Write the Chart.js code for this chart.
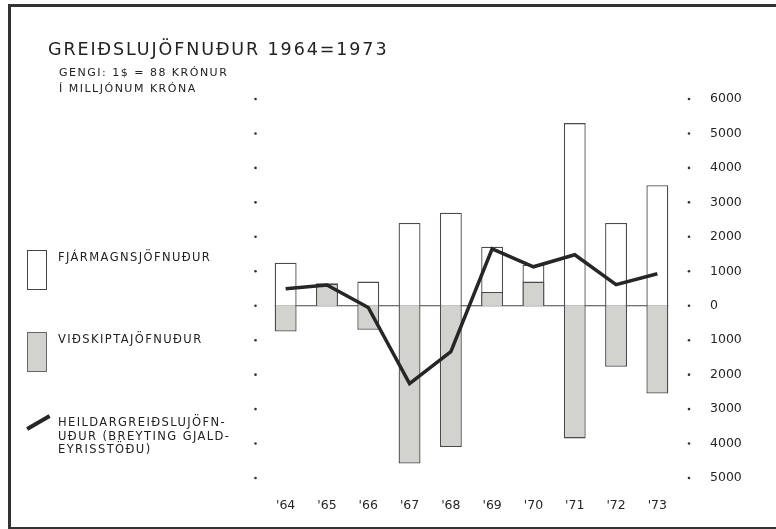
<!DOCTYPE html>
<html>
<head>
<meta charset="utf-8">
<script src="https://cdn.jsdelivr.net/npm/chart.js@4.4.1/dist/chart.umd.min.js"></script>
<style>
    body { margin: 0; background: #fff; }
    #wrap { position: relative; width: 776px; height: 529px; overflow: hidden; font-family: "DejaVu Sans", sans-serif; color: #222; }
    #chart { position: absolute; left: 0; top: 0; }
    .frame { position: absolute; left: 8px; top: 4px; width: 800px; height: 520px; border-left: 3px solid #333; border-top: 3px solid #333; border-bottom: 3px solid #333; }
    .title { position: absolute; left: 48px; top: 41px; font-size: 17.5px; line-height: 17px; letter-spacing: 1.9px; white-space: nowrap; }
    .sub { position: absolute; left: 59px; font-size: 11px; line-height: 11px; letter-spacing: 1.5px; white-space: nowrap; }
    .leg { position: absolute; left: 27px; }
    .leg .box { position: absolute; left: 0; top: 0; width: 20px; height: 40px; box-sizing: border-box; }
    .leg .txt { position: absolute; left: 31px; top: 1px; font-size: 11.5px; line-height: 13.5px; letter-spacing: 1.4px; white-space: nowrap; }
</style>
</head>
<body>
<div id="wrap">
    <canvas id="chart" width="776" height="529"></canvas>
    <div class="frame"></div>
    <div class="title">GREIÐSLUJÖFNUÐUR 1964=1973</div>
    <div class="sub" style="top:67px">GENGI: 1$ = 88 KRÓNUR</div>
    <div class="sub" style="top:83px">Í MILLJÓNUM KRÓNA</div>
    <div id="legend"></div>
</div>
<script>
// years on the x axis
var years = ["'64", "'65", "'66", "'67", "'68", "'69", "'70", "'71", "'72", "'73"];

// millions of krónur
var capitalBalance = [1250, 650, 700, 2400, 2700, 1710, 1190, 5300, 2400, 3500];
var currentBalance = [-750, 630, -700, -4580, -4100, 400, 700, -3850, -1770, -2550];
var totalBalance = [490, 600, -50, -2260, -1330, 1650, 1130, 1480, 610, 930];

var seriesNames = [
    'FJÁRMAGNSJÖFNUÐUR',
    'VIÐSKIPTAJÖFNUÐUR',
    'HEILDARGREIÐSLUJÖFN-\nUÐUR (BREYTING GJALD-\nEYRISSTÖÐU)'
];

var yMin = -5000, yMax = 6000, yStep = 1000;

var ink = '#262626';
var shade = '#d2d3ce';

// small dots beside each value tick, and the zero line under the bars
var axisDots = {
    id: 'axisDots',
    beforeDatasetsDraw(chart) {
        const ctx = chart.ctx;
        const y = chart.scales.y;
        const meta = chart.getDatasetMeta(0);
        const first = meta.data[0], last = meta.data[meta.data.length - 1];
        const zy = y.getPixelForValue(0);
        ctx.save();
        ctx.strokeStyle = '#444';
        ctx.lineWidth = 1.2;
        ctx.beginPath();
        ctx.moveTo(first.x - first.width / 2, zy);
        ctx.lineTo(last.x + last.width / 2, zy);
        ctx.stroke();
        ctx.restore();
    },
    afterDraw(chart) {
        const ctx = chart.ctx;
        const area = chart.chartArea;
        const y = chart.scales.y;
        ctx.save();
        ctx.fillStyle = '#333';
        y.ticks.forEach((t) => {
            const py = y.getPixelForValue(t.value);
            [area.left - 9.5, area.right + 11].forEach((px) => {
                ctx.beginPath();
                ctx.arc(px, py, 1.3, 0, Math.PI * 2);
                ctx.fill();
            });
        });
        ctx.restore();
    }
};

var chart = new Chart(document.getElementById('chart'), {
    data: {
        labels: years,
        datasets: [
            {
                type: 'bar',
                label: seriesNames[0],
                data: capitalBalance,
                backgroundColor: '#fff',
                borderColor: '#4a4a4a',
                borderWidth: 1.3,
                grouped: false,
                categoryPercentage: 1,
                barPercentage: 0.53,
                order: 3
            },
            {
                type: 'bar',
                label: seriesNames[1],
                data: currentBalance,
                backgroundColor: shade,
                borderColor: '#4a4a4a',
                borderWidth: 1.3,
                grouped: false,
                categoryPercentage: 1,
                barPercentage: 0.53,
                order: 2
            },
            {
                type: 'line',
                label: seriesNames[2],
                data: totalBalance,
                borderColor: ink,
                borderWidth: 3.5,
                pointRadius: 0,
                tension: 0,
                fill: false,
                order: 1
            }
        ]
    },
    options: {
        responsive: false,
        devicePixelRatio: 1,
        animation: false,
        layout: { padding: { left: 265, top: 99, right: 0, bottom: 0 } },
        scales: {
            x: {
                grid: { display: false },
                border: { display: false },
                ticks: { color: ink, font: { family: 'DejaVu Sans', size: 12.5 }, padding: 12 },
                afterFit: (scale) => { scale.height = 51; }
            },
            y: {
                position: 'right',
                min: yMin,
                max: yMax,
                grid: { display: false },
                border: { display: false },
                ticks: {
                    stepSize: yStep,
                    color: ink,
                    padding: 24,
                    font: { family: 'DejaVu Sans', size: 12.5 },
                    callback: (v) => String(Math.abs(v))
                },
                afterFit: (scale) => { scale.width = 98; }
            }
        },
        plugins: {
            legend: { display: false },
            tooltip: { enabled: false }
        }
    },
    plugins: [axisDots]
});

// legend built from the series names
var legendTops = [250, 332, 415];
var legendEl = document.getElementById('legend');
seriesNames.forEach((name, i) => {
    var item = document.createElement('div');
    item.className = 'leg';
    item.style.top = legendTops[i] + 'px';
    var sym = document.createElement('div');
    if (i < 2) {
        sym.className = 'box';
        sym.style.background = i === 0 ? '#fff' : shade;
        sym.style.border = '1.3px solid ' + (i === 0 ? '#444' : '#666');
    } else {
        sym.style.cssText = 'position:absolute;left:0;top:11.5px;width:26px;height:3.5px;background:' + ink + ';transform:rotate(-30deg);transform-origin:left center;';
    }
    var txt = document.createElement('div');
    txt.className = 'txt';
    txt.innerText = name;
    item.appendChild(sym);
    item.appendChild(txt);
    legendEl.appendChild(item);
});
</script>
</body>
</html>
